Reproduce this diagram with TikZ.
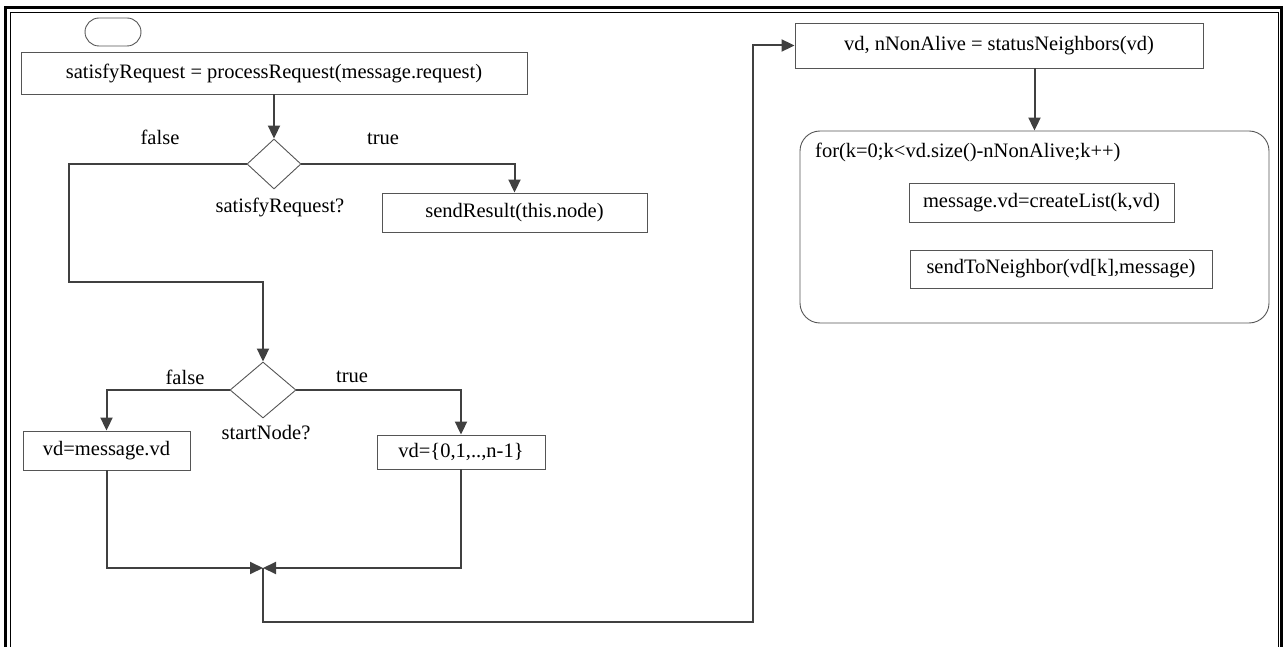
\documentclass[tikz,border=0pt]{standalone}
\usepackage{fontspec}
\setmainfont{Liberation Serif}
\usetikzlibrary{arrows.meta,shapes.geometric}
\definecolor{linegray}{RGB}{64,64,64}
\definecolor{boxgray}{RGB}{85,85,85}
\begin{document}
\begin{tikzpicture}[x=1pt,y=-1pt,
  every node/.style={font=\fontsize{20.5}{24}\selectfont},
  box/.style={draw=boxgray,line width=0.9pt,inner sep=0pt,anchor=center},
  decision/.style={diamond,draw=boxgray,line width=0.9pt,inner sep=0pt},
  flow/.style={draw=linegray,line width=2pt,-{Triangle[length=13pt,width=12pt]}},
  tag/.style={inner sep=0pt}]
\useasboundingbox (0,0) rectangle (1283,647);

% double frame around the whole chart
\draw[line width=3pt] (5,8) rectangle (1281.5,680);
\draw[line width=1pt] (10,12.5) rectangle (1278,675);

% start terminal and first statement
\node[box,rounded corners=14pt,minimum width=56pt,minimum height=28pt] (start) at (113,32) {};
\node[box,minimum width=506pt,minimum height=42pt] (req) at (274,73)
  {satisfyRequest = processRequest(message.request)};

% first decision
\node[decision,minimum width=54pt,minimum height=50pt] (d1) at (274,164) {};
\node[tag] (d1lbl) at (280,207) {satisfyRequest?};
\node[tag] (d1f) at (160,137) {false};
\node[tag] (d1t) at (383,139) {true};
\node[box,minimum width=265pt,minimum height=39pt] (res) at (514.5,212.5) {sendResult(this.node)};

% second decision
\coordinate (f1) at (69,282);
\node[decision,minimum width=66pt,minimum height=56pt] (d2) at (263,390) {};
\node[tag] (d2lbl) at (266,433) {startNode?};
\node[tag] (d2f) at (185,377) {false};
\node[tag] (d2t) at (352,377) {true};
\node[box,minimum width=167pt,minimum height=39pt] (vdm) at (106.5,450.5) {vd=message.vd};
\node[box,minimum width=168pt,minimum height=34pt] (vdn) at (461,452) {vd=\{0,1,..,n-1\}};

% merge point and route to the right column
\coordinate (j) at (263,568);
\coordinate (c1) at (753,622);

% right column
\node[box,minimum width=408pt,minimum height=45pt] (stat) at (999,45.5)
  {vd, nNonAlive = statusNeighbors(vd)};
\node[box,rounded corners=20pt,minimum width=469pt,minimum height=192pt] (loop) at (1034.5,227) {};
\node[tag,anchor=west] (forhdr) at (815,152) {for(k=0;k<vd.size()-nNonAlive;k++)};
\node[box,minimum width=265pt,minimum height=39pt] (mk) at (1041.5,202.5) {message.vd=createList(k,vd)};
\node[box,minimum width=302pt,minimum height=38pt] (snd) at (1061,269) {sendToNeighbor(vd[k],message)};

% connectors
\draw[flow] (req.south) -- (d1.north);
\draw[flow] (d1.east) -| (res.north);
\draw[flow] (d1.west) -| (f1) -| (d2.north);
\draw[flow] (d2.west) -| (vdm.north);
\draw[flow] (d2.east) -| (vdn.north);
\draw[flow] (vdm.south) |- (j);
\draw[flow] (vdn.south) |- (j);
\draw[flow] (j) |- (c1) |- (stat.west);
\draw[flow] (loop.north |- stat.south) -- (loop.north);
\end{tikzpicture}
\end{document}
